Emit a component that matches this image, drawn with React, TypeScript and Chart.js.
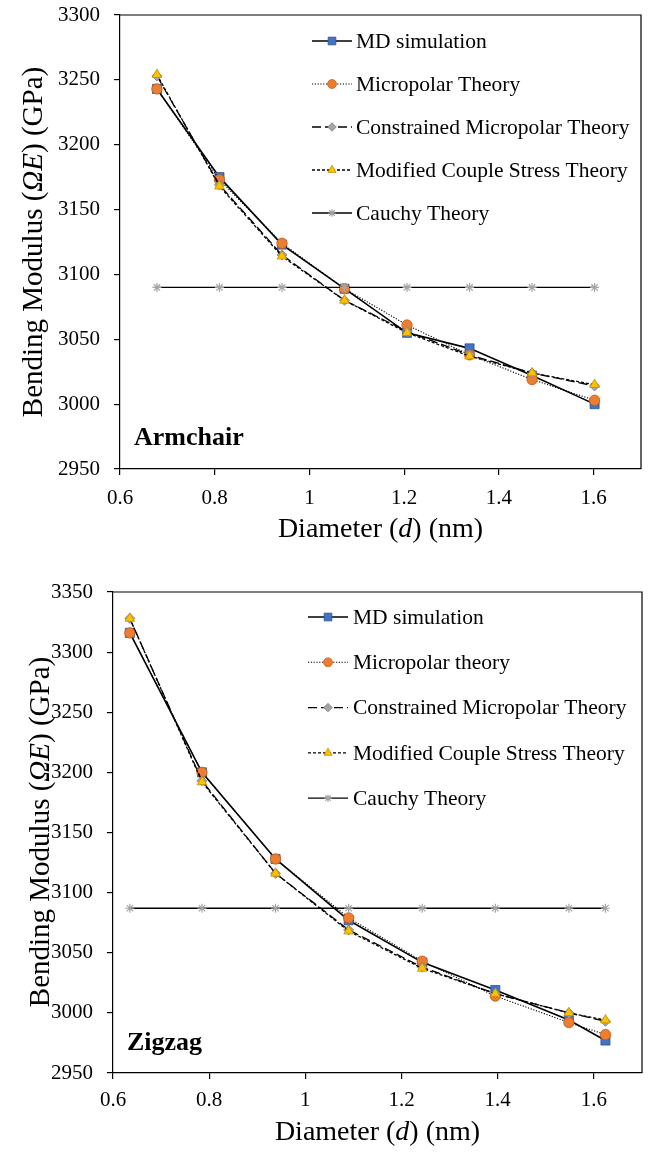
import React, { useEffect, useRef } from "react";
import { Chart, registerables } from "chart.js";

Chart.register(...registerables);

const FONT = '"Liberation Serif", "Times New Roman", Times, serif';

// ---------- Armchair data ----------
const armDiameter = [0.678, 0.81, 0.942, 1.074, 1.206, 1.338, 1.47, 1.602];
const armMD = [3243, 3175, 3123, 3089, 3055, 3043, 3022, 3000];
const armMicropolar = [3243, 3173, 3124, 3089, 3061, 3038, 3019, 3003];
const armConstrained = [3253, 3169, 3115, 3080, 3056, 3038, 3024, 3014];
const armMCST = [3254, 3168, 3114, 3080, 3055, 3037, 3024, 3015];
const armCauchy = [3090, 3090, 3090, 3090, 3090, 3090, 3090, 3090];
const armLegend = [
  "MD simulation",
  "Micropolar Theory",
  "Constrained Micropolar Theory",
  "Modified Couple Stress Theory",
  "Cauchy Theory",
];
const armYTicks = [2950, 3000, 3050, 3100, 3150, 3200, 3250, 3300];

// ---------- Zigzag data ----------
const zigDiameter = [0.635, 0.785, 0.938, 1.09, 1.243, 1.395, 1.548, 1.624];
const zigMD = [3316, 3200, 3128, 3077, 3042, 3019, 2994, 2977];
const zigMicropolar = [3316, 3200, 3128, 3079, 3043, 3014, 2992, 2982];
const zigConstrained = [3328, 3193, 3116, 3069, 3038, 3016, 3000, 2993];
const zigMCST = [3328, 3192, 3116, 3068, 3037, 3016, 3000, 2994];
const zigCauchy = [3087, 3087, 3087, 3087, 3087, 3087, 3087, 3087];
const zigLegend = [
  "MD simulation",
  "Micropolar theory",
  "Constrained Micropolar Theory",
  "Modified Couple Stress Theory",
  "Cauchy Theory",
];
const zigYTicks = [2950, 3000, 3050, 3100, 3150, 3200, 3250, 3300, 3350];

const xTicks = [0.6, 0.8, 1.0, 1.2, 1.4, 1.6];
const xMin = 0.6;
const xMax = 1.7;

const xTitleParts: [string, boolean][] = [
  ["Diameter (", false],
  ["d", true],
  [") (nm)", false],
];
const yTitleParts: [string, boolean][] = [
  ["Bending Modulus (", false],
  ["ΩE", true],
  [") (GPa)", false],
];

const W = 655;
const H = 577;

const styles = [
  { pointStyle: "rect", radius: 6.4, fill: "#4472C4", stroke: "#2F528F", dash: [] as number[], width: 1.6, pbw: 0.8, order: 5 },
  { pointStyle: "circle", radius: 5.2, fill: "#ED7D31", stroke: "#C55A11", dash: [1.2, 1.6], width: 1.1, pbw: 0.8, order: 4 },
  { pointStyle: "rectRot", radius: 5, fill: "#A5A5A5", stroke: "#7F7F7F", dash: [9, 4], width: 1.3, pbw: 0.8, order: 3 },
  { pointStyle: "triangle", radius: 5.6, fill: "#FFC000", stroke: "#BF9000", dash: [3, 2], width: 1.3, pbw: 0.8, order: 2 },
  { pointStyle: "star", radius: 4.5, fill: "#A5A5A5", stroke: "#A5A5A5", dash: [] as number[], width: 1.3, pbw: 1.2, order: 1 },
];

function drawMarker(ctx: CanvasRenderingContext2D, st: any, x: number, y: number) {
  const r = st.radius;
  ctx.save();
  ctx.setLineDash([]);
  ctx.fillStyle = st.fill;
  ctx.strokeStyle = st.stroke;
  ctx.lineWidth = st.pbw;
  ctx.beginPath();
  if (st.pointStyle === "rect") {
    const s = Math.SQRT1_2 * r;
    ctx.rect(x - s, y - s, 2 * s, 2 * s);
    ctx.fill();
    ctx.stroke();
  } else if (st.pointStyle === "circle") {
    ctx.arc(x, y, r, 0, Math.PI * 2);
    ctx.fill();
    ctx.stroke();
  } else if (st.pointStyle === "rectRot") {
    ctx.moveTo(x, y - r);
    ctx.lineTo(x + r, y);
    ctx.lineTo(x, y + r);
    ctx.lineTo(x - r, y);
    ctx.closePath();
    ctx.fill();
    ctx.stroke();
  } else if (st.pointStyle === "triangle") {
    let a = 0;
    ctx.moveTo(x + Math.sin(a) * r, y - Math.cos(a) * r);
    a += (2 * Math.PI) / 3;
    ctx.lineTo(x + Math.sin(a) * r, y - Math.cos(a) * r);
    a += (2 * Math.PI) / 3;
    ctx.lineTo(x + Math.sin(a) * r, y - Math.cos(a) * r);
    ctx.closePath();
    ctx.fill();
    ctx.stroke();
  } else if (st.pointStyle === "star") {
    for (let k = 0; k < 4; k++) {
      const a = (k * Math.PI) / 4;
      ctx.moveTo(x - Math.cos(a) * r, y - Math.sin(a) * r);
      ctx.lineTo(x + Math.cos(a) * r, y + Math.sin(a) * r);
    }
    ctx.stroke();
  }
  ctx.restore();
}

function drawParts(
  ctx: CanvasRenderingContext2D,
  parts: [string, boolean][],
  cx: number,
  cy: number,
  size: number,
  rotate: boolean
) {
  ctx.save();
  ctx.translate(cx, cy);
  if (rotate) ctx.rotate(-Math.PI / 2);
  ctx.textBaseline = "middle";
  ctx.textAlign = "left";
  ctx.fillStyle = "#000";
  const fonts = parts.map(([, it]) => `${it ? "italic " : ""}${size}px ${FONT}`);
  let total = 0;
  const widths = parts.map(([t], i) => {
    ctx.font = fonts[i];
    const w = ctx.measureText(t).width;
    total += w;
    return w;
  });
  let x = -total / 2;
  parts.forEach(([t], i) => {
    ctx.font = fonts[i];
    ctx.fillText(t, x, 0);
    x += widths[i];
  });
  ctx.restore();
}

function buildConfig(p: any): any {
  const datasets = p.series.map((vals: number[], i: number) => {
    const st = styles[i];
    return {
      label: p.legend[i],
      data: p.x.map((xv: number, j: number) => ({ x: xv, y: vals[j] })),
      borderColor: "#000",
      borderWidth: st.width,
      borderDash: st.dash,
      pointStyle: st.pointStyle,
      pointRadius: st.radius,
      pointBackgroundColor: st.fill,
      pointBorderColor: st.stroke,
      pointBorderWidth: st.pbw,
      fill: false,
      tension: 0,
      order: st.order,
    };
  });

  const decor = {
    id: "decor",
    afterDraw(chart: any) {
      const ctx: CanvasRenderingContext2D = chart.ctx;
      const a = chart.chartArea;
      ctx.save();
      ctx.strokeStyle = "#000";
      ctx.lineWidth = 1.2;
      ctx.beginPath();
      ctx.moveTo(a.left, a.top);
      ctx.lineTo(a.right, a.top);
      ctx.lineTo(a.right, a.bottom);
      ctx.stroke();

      // legend
      const L = p.leg;
      p.legend.forEach((label: string, i: number) => {
        const st = styles[i];
        const y = L.y0 + i * L.dy;
        ctx.save();
        ctx.strokeStyle = "#000";
        ctx.lineWidth = st.width;
        ctx.setLineDash(st.dash);
        ctx.beginPath();
        ctx.moveTo(L.x0, y);
        ctx.lineTo(L.x1, y);
        ctx.stroke();
        ctx.restore();
        drawMarker(ctx, { ...st, radius: st.radius * 0.85 }, (L.x0 + L.x1) / 2, y);
        ctx.fillStyle = "#000";
        ctx.font = `${L.size}px ${FONT}`;
        ctx.textAlign = "left";
        ctx.textBaseline = "middle";
        ctx.fillText(label, L.tx, y + 1);
      });

      // panel label
      ctx.font = `bold ${p.panel.size}px ${FONT}`;
      ctx.fillStyle = "#000";
      ctx.textAlign = "left";
      ctx.textBaseline = "alphabetic";
      ctx.fillText(p.panel.text, p.panel.x, p.panel.y);

      // titles
      drawParts(ctx, xTitleParts, p.xTitle.x, p.xTitle.y, p.xTitleSize, false);
      drawParts(ctx, yTitleParts, p.yTitle.x, p.yTitle.y, p.yTitleSize, true);
      ctx.restore();
    },
  };

  const tickFont = { family: FONT, size: 21 };
  return {
    type: "line",
    data: { datasets },
    plugins: [decor],
    options: {
      animation: false,
      responsive: false,
      devicePixelRatio: 1,
      layout: {
        padding: { left: 0, top: p.area.top, right: W - p.area.right, bottom: 0 },
      },
      plugins: { legend: { display: false }, tooltip: { enabled: false } },
      scales: {
        x: {
          type: "linear",
          min: xMin,
          max: xMax,
          afterFit: (s: any) => {
            s.height = H - p.area.bottom;
            s.paddingLeft = 0;
            s.paddingRight = 0;
          },
          afterBuildTicks: (s: any) => {
            s.ticks = xTicks.map((v) => ({ value: v }));
          },
          ticks: {
            autoSkip: false,
            maxRotation: 0,
            color: "#000",
            font: tickFont,
            padding: p.xPad,
            callback: (v: number) => String(Math.round(v * 10) / 10),
          },
          grid: { drawOnChartArea: false, drawTicks: true, tickLength: 6, color: "#000", lineWidth: 1.2 },
          border: { display: true, color: "#000", width: 1.2 },
        },
        y: {
          type: "linear",
          min: p.yTicks[0],
          max: p.yTicks[p.yTicks.length - 1],
          afterFit: (s: any) => {
            s.width = p.area.left;
            s.paddingTop = 0;
            s.paddingBottom = 0;
          },
          afterBuildTicks: (s: any) => {
            s.ticks = p.yTicks.map((v: number) => ({ value: v }));
          },
          ticks: {
            color: "#000",
            font: tickFont,
            padding: 14,
            callback: (v: number) => String(v),
          },
          grid: { drawOnChartArea: false, drawTicks: true, tickLength: 6, color: "#000", lineWidth: 1.2 },
          border: { display: true, color: "#000", width: 1.2 },
        },
      },
    },
  };
}

const armParams = {
  x: armDiameter,
  series: [armMD, armMicropolar, armConstrained, armMCST, armCauchy],
  legend: armLegend,
  yTicks: armYTicks,
  area: { left: 120, right: 641, top: 15, bottom: 469 },
  xPad: 11,
  leg: { x0: 312, x1: 352, tx: 356, y0: 41, dy: 43, size: 21.5 },
  panel: { text: "Armchair", x: 134, y: 445, size: 26 },
  xTitleSize: 28,
  yTitleSize: 29,
  yTitle: { x: 34, y: 242 },
  xTitle: { x: 380.5, y: 530 },
};

const zigParams = {
  x: zigDiameter,
  series: [zigMD, zigMicropolar, zigConstrained, zigMCST, zigCauchy],
  legend: zigLegend,
  yTicks: zigYTicks,
  area: { left: 113, right: 642, top: 15, bottom: 496 },
  xPad: 9,
  leg: { x0: 308, x1: 348, tx: 353, y0: 40, dy: 45.3, size: 21.5 },
  panel: { text: "Zigzag", x: 127, y: 473, size: 26 },
  xTitleSize: 28,
  yTitleSize: 29,
  yTitle: { x: 41, y: 255 },
  xTitle: { x: 377.5, y: 556 },
};

function ChartPanel({ params, top }: { params: any; top: number }) {
  const ref = useRef<HTMLCanvasElement>(null);
  useEffect(() => {
    const chart = new Chart(ref.current as HTMLCanvasElement, buildConfig(params));
    return () => chart.destroy();
  }, []);
  return (
    <canvas
      ref={ref}
      width={W}
      height={H}
      style={{ position: "absolute", left: 0, top, width: W, height: H, display: "block" }}
    />
  );
}

export default function App() {
  return (
    <div
      style={{
        position: "absolute",
        left: 0,
        top: 0,
        width: W,
        height: 1154,
        background: "#fff",
        overflow: "hidden",
      }}
    >
      <ChartPanel params={armParams} top={0} />
      <ChartPanel params={zigParams} top={577} />
    </div>
  );
}
